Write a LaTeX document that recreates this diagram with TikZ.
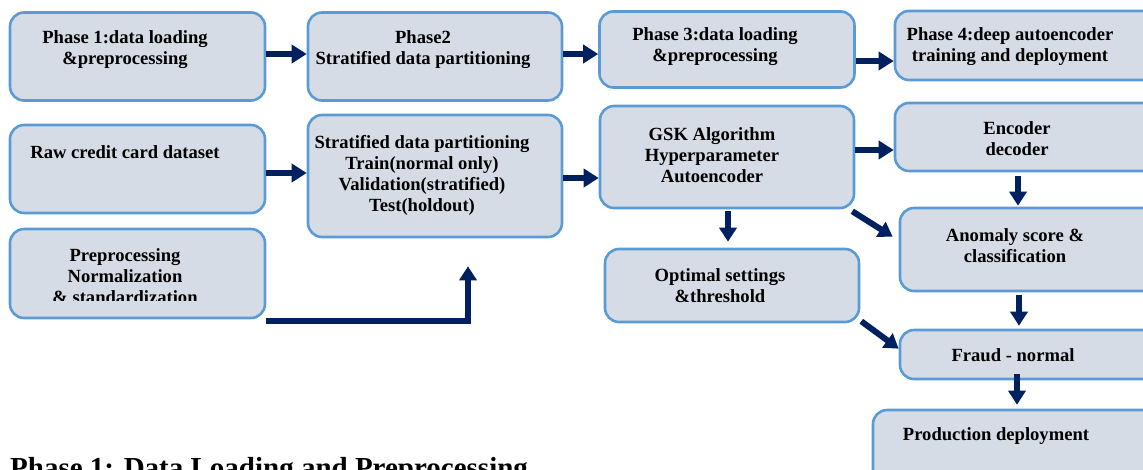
\documentclass[tikz,border=0pt]{standalone}
\usepackage{fontspec}
\setmainfont{Liberation Serif}
\usetikzlibrary{arrows.meta,calc}
\definecolor{boxfill}{HTML}{D6DCE5}
\definecolor{boxline}{HTML}{5B9BD5}
\definecolor{arrowc}{HTML}{002060}
\begin{document}
\begin{tikzpicture}[x=1pt,y=-1pt,
  box/.style={draw=boxline, line width=2.6pt, fill=boxfill, rounded corners=14pt, inner sep=0pt},
  txt/.style={font=\fontsize{18.6}{21}\selectfont\bfseries, align=center, inner sep=0pt, text=black},
  arr/.style={draw=arrowc, line width=6.5pt, -{Triangle[width=18pt,length=15pt]}},
  arrs/.style={draw=arrowc, line width=6pt, -{Triangle[width=17pt,length=14pt]}}]
\useasboundingbox (0,0) rectangle (1143,469);
\clip (0,0) rectangle (1143,469);
% boxes
\node[box, minimum width=255pt, minimum height=88pt] (A) at (137.5,56.5) {};
\node[box, minimum width=254pt, minimum height=88pt] (B) at (435,56.5) {};
\node[box, minimum width=255pt, minimum height=76pt] (C) at (727,49.5) {};
\node[box, minimum width=265pt, minimum height=69pt] (D) at (1027.5,45.5) {};
\node[box, minimum width=255pt, minimum height=88pt] (E) at (137.5,169) {};
\node[box, minimum width=254pt, minimum height=122pt] (F) at (435,176) {};
\node[box, minimum width=255pt, minimum height=89pt] (G) at (137.5,273.5) {};
\node[box, minimum width=254pt, minimum height=102pt] (H) at (727,157) {};
\node[box, minimum width=265pt, minimum height=68pt] (I) at (1027.5,137) {};
\node[box, minimum width=260pt, minimum height=83pt] (J) at (1030,249.5) {};
\node[box, minimum width=254pt, minimum height=73pt] (K) at (732,285.5) {};
\node[box, minimum width=260pt, minimum height=49pt] (L) at (1030,354.5) {};
\node[box, minimum width=287pt, minimum height=80pt] (M) at (1016.5,450) {};
% texts
\node[txt] (At) at (125,50) {Phase 1:data loading\\\&preprocessing};
\node[txt] (Bt) at (423,50) {Phase2\\Stratified data partitioning};
\node[txt] (Ct) at (715,47) {Phase 3:data loading\\\&preprocessing};
\begin{scope}
\clip (895,11) rectangle (1143,64);
\node[txt] (Dt) at (1010,47) {Phase 4:deep autoencoder\\training and deployment};
\end{scope}
\node[txt] (Et) at (125,152) {Raw credit card dataset};
\node[txt] (Ft) at (422,175) {Stratified data partitioning\\Train(normal only)\\Validation(stratified)\\Test(holdout)};
\begin{scope}
\clip (10,229) rectangle (265,300);
\node[txt] (Gt) at (125,276) {Preprocessing\\Normalization\\\& standardization};
\end{scope}
\node[txt] (Ht) at (712,155) {GSK Algorithm\\Hyperparameter\\Autoencoder};
\node[txt] (It) at (1017,139) {Encoder\\decoder};
\node[txt] (Jt) at (1015,246) {Anomaly score \&\\classification};
\node[txt] (Kt) at (720,286) {Optimal settings\\\&threshold};
\node[txt] (Lt) at (1013,355) {Fraud - normal};
\node[txt] (Mt) at (996,436) {Production deployment};
% caption (clipped by the picture's lower edge)
\node[font=\fontsize{29}{34}\selectfont\bfseries, anchor=base west, inner sep=0pt] (cap) at (10,477) {Phase 1: Data Loading and Preprocessing};
% connectors
\draw[arr] (A.east|-0,54) -- (B.west|-0,54);
\draw[arr] (B.east|-0,54) -- (C.west|-0,54);
\draw[arr] (C.east|-0,61) -- (D.west|-0,61);
\draw[arr] (E.east|-0,173) -- (F.west|-0,173);
\draw[arr] (F.east|-0,178) -- (H.west|-0,178);
\draw[arr] (H.east|-0,150) -- (I.west|-0,150);
\draw[arrs] ($(H.south)+(1,2)$) -- ($(K.north)+(-4,-6)$);
\draw[arrs] ($(H.south east)+(-3,2)$) -- ($(J.north west)+(-6,30)$);
\draw[arrs] ($(I.south)+(-9.5,4)$) -- ($(J.north)+(-12,-1)$);
\draw[arrs] ($(K.south east)+(1,-2)$) -- ($(L.north west)+(0,20)$);
\draw[arrs] ($(J.south)+(-11,3)$) -- ($(L.north)+(-11,-3)$);
\draw[arrs] ($(L.south)+(-13,-6)$) -- ($(M.north)+(0.5,-4)$);
\draw[draw=arrowc, line width=6pt, -{Triangle[width=17pt,length=14pt]}] (G.east|-0,321) -- (468,321) -- ($(F.south)+(33,28)$);
\end{tikzpicture}
\end{document}
